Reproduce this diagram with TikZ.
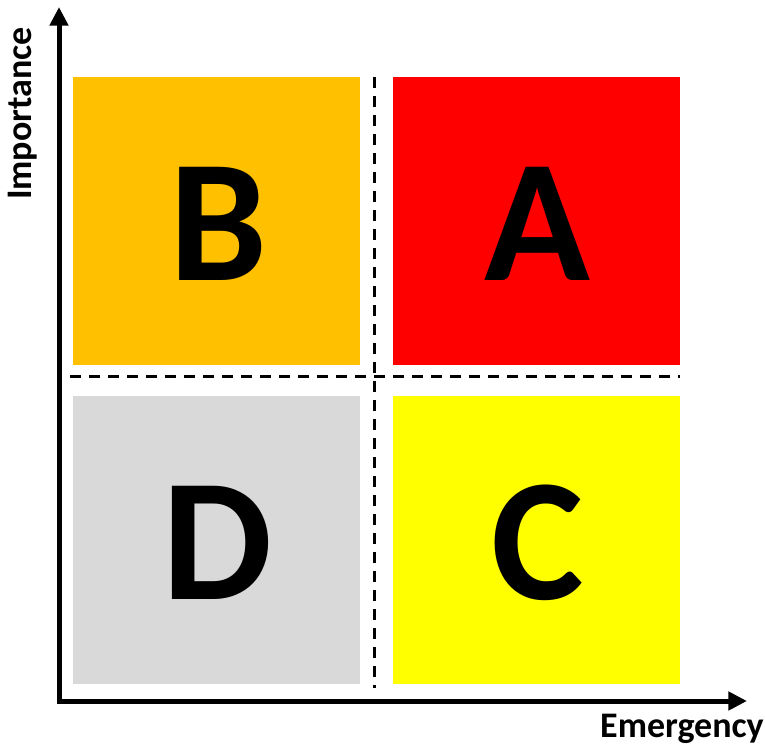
\documentclass[tikz,border=0pt]{standalone}
\usepackage{fontspec}
\setmainfont{Carlito}
\usetikzlibrary{arrows.meta}
\definecolor{qorange}{HTML}{FFC000}
\definecolor{qred}{HTML}{FF0000}
\definecolor{qgray}{HTML}{D9D9D9}
\definecolor{qyellow}{HTML}{FFFF00}
\begin{document}
\begin{tikzpicture}[x=0.75pt,y=-0.75pt,
  quad/.style={inner sep=0pt, minimum width=215.25pt, minimum height=216pt},
  letter/.style={inner sep=0pt, font=\fontsize{131}{131}\selectfont\bfseries},
  axislabel/.style={inner sep=0pt, font=\fontsize{27}{27}\selectfont\bfseries},
  axis/.style={line width=3.75pt, line join=miter,
    {Triangle[length=14pt,width=13.5pt]}-{Triangle[length=14pt,width=13.5pt]}},
  divider/.style={line width=2.25pt, dash pattern=on 8.25pt off 6pt}]
\useasboundingbox (0,0) rectangle (765,746);
\node[quad, fill=qorange] (B) at (216.5,221) {};
\node[quad, fill=qred] (A) at (536.5,221) {};
\node[quad, fill=qgray] (D) at (216.5,539.5) {};
\node[quad, fill=qyellow] (C) at (536.5,539.5) {};
\node[letter] (Bl) at ([xshift=1.5pt,yshift=-2.25pt]B.center) {B};
\node[letter] (Al) at ([xshift=0.75pt,yshift=-2.25pt]A.center) {A};
\node[letter] (Dl) at ([xshift=0.75pt,yshift=-2.25pt]D.center) {D};
\node[letter] (Cl) at ([xshift=0.75pt,yshift=-2.25pt]C.center) {C};
\coordinate (ytop) at (59,7);
\coordinate (orig) at (59,701);
\coordinate (xend) at (747,701);
\draw[axis] (ytop) -- (orig) -- (xend);
\coordinate (vtop) at (374,77);
\coordinate (vbot) at (374,688);
\coordinate (hl) at (70,376);
\coordinate (hr) at (680,376);
\draw[divider] (vtop) -- (vbot);
\draw[divider] (hl) -- (hr);
\node[axislabel, rotate=90] (imp) at (22.5,113.5) {Importance};
\node[axislabel] (eme) at (682,729) {Emergency};
\end{tikzpicture}
\end{document}
